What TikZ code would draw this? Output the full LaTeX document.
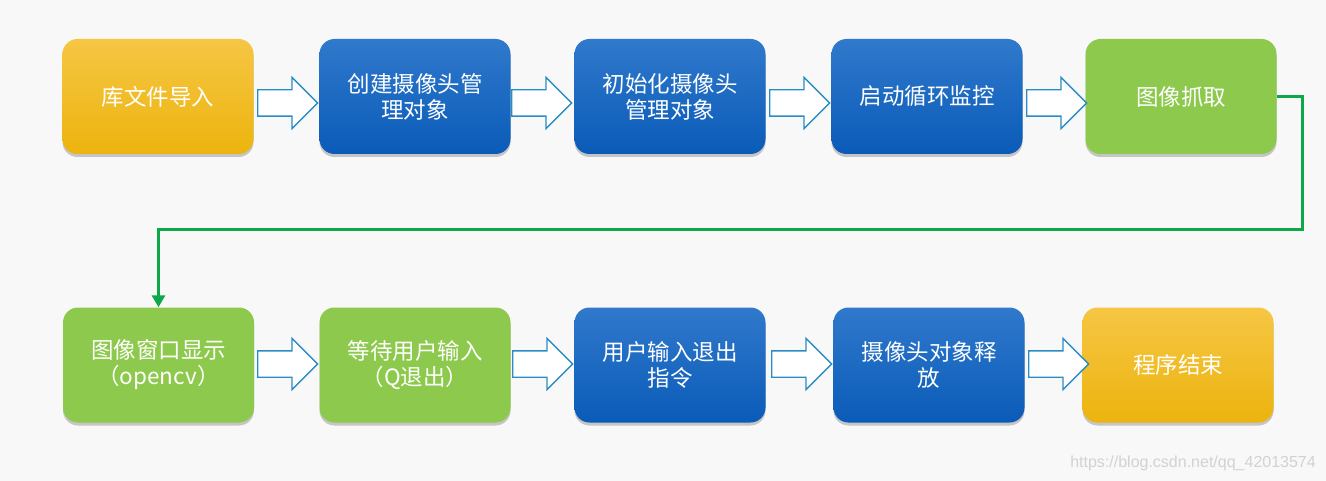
\documentclass[tikz,border=0pt]{standalone}
\usepackage{fontspec}
\newfontfamily\cjk{Noto Sans CJK SC}
\newfontfamily\wmfont{Liberation Sans}
\usetikzlibrary{shapes.arrows,shadows,arrows.meta}
\definecolor{yellowT}{HTML}{F6C644}
\definecolor{yellowB}{HTML}{ECB40E}
\definecolor{blueT}{HTML}{3079CC}
\definecolor{blueB}{HTML}{0A5BB8}
\definecolor{greenF}{HTML}{8DC94C}
\definecolor{arrowC}{HTML}{2A8CC4}
\definecolor{connC}{HTML}{0DA84A}
\definecolor{bgC}{HTML}{F8F8F8}
\definecolor{wmC}{HTML}{D2D2D2}
\tikzset{
  box/.style={rounded corners=15pt, minimum width=191pt, minimum height=115pt,
    inner sep=0pt, text=white, align=center,
    font=\cjk\fontsize{22.5}{26}\selectfont,
    drop shadow={shadow xshift=0pt, shadow yshift=-3pt, opacity=0.35, fill=black!60}},
  yellowbox/.style={box, top color=yellowT, bottom color=yellowB},
  bluebox/.style={box, top color=blueT, bottom color=blueB},
  greenbox/.style={box, fill=greenF},
  barrow/.style={single arrow, draw=arrowC, fill=white, line width=1.3pt,
    minimum height=60pt, inner xsep=0pt, inner ysep=12.5pt,
    single arrow head extend=12.5pt, anchor=tail},
  conn/.style={draw=connC, line width=3pt, -{Triangle[width=13pt,length=12pt]}},
}
\begin{document}
\begin{tikzpicture}[x=1pt,y=-1pt]
\fill[bgC] (0,0) rectangle (1326,481);
\useasboundingbox (0,0) rectangle (1326,481);
% top row
\node[yellowbox] (t1) at (158,96.5) {库文件导入};
\node[bluebox]   (t2) at (415,96.5) {创建摄像头管\\理对象};
\node[bluebox]   (t3) at (670,96.5) {初始化摄像头\\管理对象};
\node[bluebox]   (t4) at (927,96.5) {启动循环监控};
\node[greenbox]  (t5) at (1181,96.5) {图像抓取};
% bottom row
\node[greenbox]  (b1) at (158.5,365) {图像窗口显示\\（opencv）};
\node[greenbox]  (b2) at (415,365) {等待用户输入\\（Q退出）};
\node[bluebox]   (b3) at (670,365) {用户输入退出\\指令};
\node[bluebox]   (b4) at (929,365) {摄像头对象释\\放};
\node[yellowbox] (b5) at (1178,365) {程序结束};
% block arrows
\node[barrow] (a1) at (257,103) {};
\node[barrow] (a2) at (511,103) {};
\node[barrow] (a3) at (769,103) {};
\node[barrow] (a4) at (1026,103) {};
\node[barrow] (a5) at (257,364) {};
\node[barrow] (a6) at (512,364) {};
\node[barrow] (a7) at (771,364) {};
\node[barrow] (a8) at (1028,364) {};
% green connector
\coordinate (c1) at (1302,230);
\draw[conn] (t5.east) -| (c1) -| (b1.north);
% watermark
\node[font=\wmfont\fontsize{16}{18}\selectfont, text=wmC, anchor=east, inner sep=0pt] (wm) at (1316,463) {https://blog.csdn.net/qq\_42013574};
\end{tikzpicture}
\end{document}
